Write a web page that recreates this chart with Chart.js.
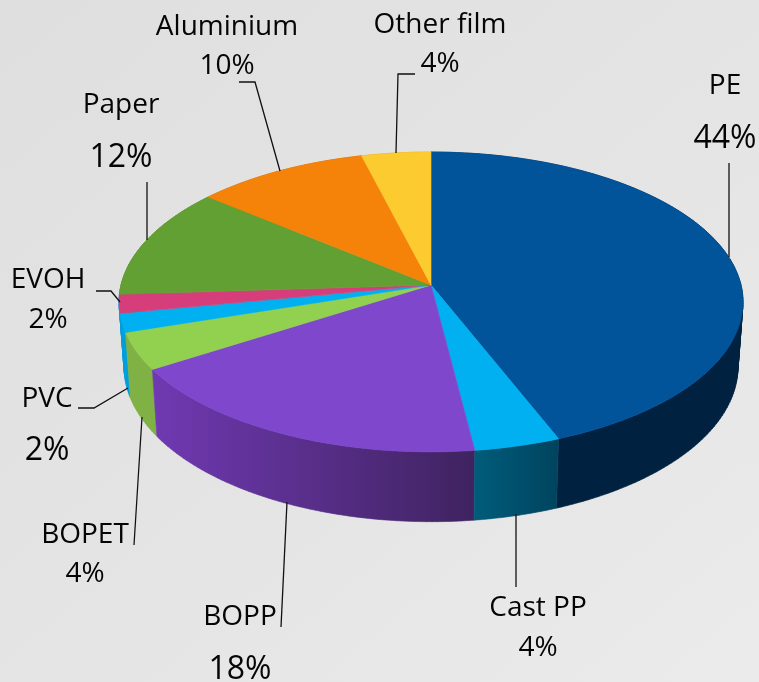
<!DOCTYPE html>
<html>
<head>
<meta charset="utf-8">
<title>Film materials</title>
<script src="https://cdn.jsdelivr.net/npm/chart.js@4"></script>
<style>
    html, body { margin: 0; padding: 0; }
    body { width: 759px; height: 682px; overflow: hidden; background: linear-gradient(140deg, #dfdfdf 0%, #e4e4e4 50%, #ebebeb 100%); }
    canvas { display: block; }
</style>
</head>
<body>
<canvas id="pie-chart" width="759" height="682"></canvas>
<script>
const categories = ['PE', 'Cast PP', 'BOPP', 'BOPET', 'PVC', 'EVOH', 'Paper', 'Aluminium', 'Other film'];
const shares = [44, 4, 18, 4, 2, 2, 12, 10, 4];
const topColors = ['#01549a', '#00b0f0', '#7e47cc', '#92d050', '#00b0f0', '#d63e7b', '#62a033', '#f5830a', '#fccb30'];
const sideLight = ['#00213f', '#005c7a', '#7039b2', '#80b145', '#009fdc', '#009fdc', '#4f8228', '#c96a05', '#d0a520'];
const sideDark = ['#00213f', '#00445f', '#3f2360', '#80b145', '#009fdc', '#009fdc', '#4f8228', '#c96a05', '#d0a520'];

// label placement, same order as categories
const callouts = [
    { x: 725, nameY: 94, pctY: 148, big: true, line: [[729, 163], [729, 257]] },
    { x: 538, nameY: 616, pctY: 656, line: [[516, 514], [516, 587]] },
    { x: 240, nameY: 625, pctY: 679, big: true, line: [[281, 627], [287, 502]] },
    { x: 85, nameY: 543, pctY: 582, line: [[134, 545], [142, 417]] },
    { x: 47, nameY: 407, pctY: 460, big: true, line: [[78, 408], [94, 408], [128, 388]] },
    { x: 48, nameY: 288, pctY: 328, line: [[96, 291], [111, 291], [120, 302]] },
    { x: 121, nameY: 113, pctY: 167, big: true, line: [[147, 182], [147, 240]] },
    { x: 227, nameY: 35, pctY: 74, line: [[239, 82], [255, 82], [280, 171]] },
    { x: 440, nameY: 33, pctY: 72, line: [[415, 74], [398, 74], [396, 153]] }
];

// perspective view of the pie disc
const view = { cx: 431, cy: 285, a: 310, b: 148, k: 0.113, floorScale: 0.984, floorStretch: 1.035, floorDrop: 64 };

function topPoint(theta) {
    const d = 1 + view.k * Math.cos(theta);
    return [view.cx + view.a * Math.sin(theta) / d, view.cy - view.b * Math.cos(theta) / d];
}

function floorPoint(theta) {
    const p = topPoint(theta);
    return [view.cx + (p[0] - view.cx) * view.floorScale, view.cy + (p[1] - view.cy) * view.floorStretch + view.floorDrop];
}

function arcPoints(start, end, fn) {
    const steps = Math.max(2, Math.ceil((end - start) / (Math.PI / 180)));
    const pts = [];
    for (let i = 0; i <= steps; i++) {
        pts.push(fn(start + (end - start) * i / steps));
    }
    return pts;
}

function addPolygon(ctx, pts) {
    pts.forEach((p, i) => i ? ctx.lineTo(p[0], p[1]) : ctx.moveTo(p[0], p[1]));
    ctx.closePath();
}

function paint(ctx, fill) {
    ctx.fillStyle = fill;
    ctx.strokeStyle = fill;
    ctx.lineWidth = 0.6;
    ctx.fill();
    ctx.stroke();
}

function signedArea(pts) {
    let area = 0;
    pts.forEach((p, i) => {
        const q = pts[(i + 1) % pts.length];
        area += p[0] * q[1] - q[0] * p[1];
    });
    return area;
}

const pie3d = {
    id: 'pie3d',
    beforeDatasetsDraw(chart) {
        const ctx = chart.ctx;
        const arcs = chart.getDatasetMeta(0).data;
        const angles = arcs.map((arc, i) => ({ i, start: arc.startAngle + Math.PI / 2, end: arc.endAngle + Math.PI / 2 }));

        // walls back to front, the top face covers whatever is at the back
        const depthOrder = angles.slice().sort((p, q) => Math.cos((q.start + q.end) / 2) - Math.cos((p.start + p.end) / 2));
        depthOrder.forEach(ang => {
            const upper = arcPoints(ang.start, ang.end, topPoint);
            const lower = arcPoints(ang.start, ang.end, floorPoint);
            const xs = upper.map(p => p[0]);
            const grad = ctx.createLinearGradient(Math.min(...xs), 0, Math.max(...xs), 0);
            grad.addColorStop(0, sideLight[ang.i]);
            grad.addColorStop(1, sideDark[ang.i]);
            // one path for the whole wall, all quads wound the same way, so no seams
            ctx.beginPath();
            for (let s = 0; s < upper.length - 1; s++) {
                const quad = [upper[s], upper[s + 1], lower[s + 1], lower[s]];
                addPolygon(ctx, signedArea(quad) < 0 ? quad.reverse() : quad);
            }
            paint(ctx, grad);
        });

        angles.forEach(ang => {
            ctx.beginPath();
            addPolygon(ctx, [[view.cx, view.cy]].concat(arcPoints(ang.start, ang.end, topPoint)));
            paint(ctx, arcs[ang.i].options.backgroundColor);
        });
        return false;
    },
    afterDraw(chart) {
        const ctx = chart.ctx;
        ctx.save();
        ctx.strokeStyle = '#111111';
        ctx.lineWidth = 1.3;
        ctx.fillStyle = '#050505';
        ctx.textAlign = 'center';
        ctx.textBaseline = 'alphabetic';
        callouts.forEach((c, i) => {
            ctx.beginPath();
            c.line.forEach((p, j) => j ? ctx.lineTo(p[0], p[1]) : ctx.moveTo(p[0], p[1]));
            ctx.stroke();
            ctx.font = '28px "Open Sans"';
            ctx.fillText(categories[i], c.x, c.nameY);
            ctx.font = (c.big ? '32px' : '28px') + ' "Open Sans"';
            ctx.fillText(shares[i] + '%', c.x, c.pctY);
        });
        ctx.restore();
    }
};

new Chart(document.getElementById('pie-chart').getContext('2d'), {
    type: 'pie',
    data: {
        labels: categories,
        datasets: [{ data: shares, backgroundColor: topColors, borderWidth: 0 }]
    },
    options: {
        responsive: false,
        animation: false,
        plugins: { legend: { display: false }, tooltip: { enabled: false } }
    },
    plugins: [pie3d]
});
</script>
</body>
</html>
